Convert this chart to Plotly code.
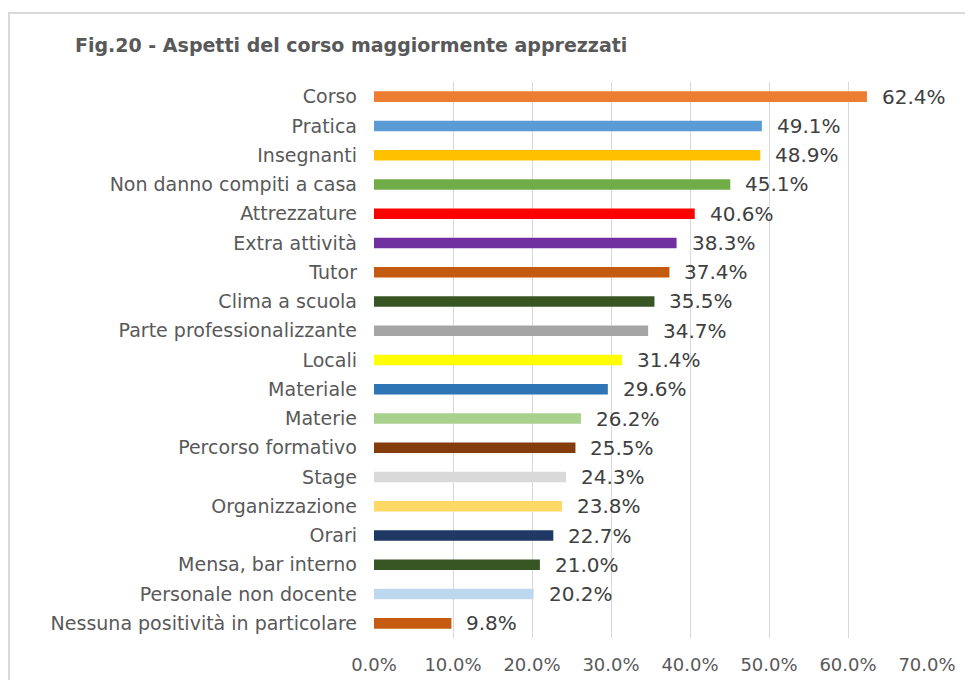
import plotly.graph_objects as go

categories = ["Corso", "Pratica", "Insegnanti", "Non danno compiti a casa", "Attrezzature",
              "Extra attività", "Tutor", "Clima a scuola", "Parte professionalizzante", "Locali",
              "Materiale", "Materie", "Percorso formativo", "Stage", "Organizzazione", "Orari",
              "Mensa, bar interno", "Personale non docente", "Nessuna positività in particolare"]
values = [62.4, 49.1, 48.9, 45.1, 40.6, 38.3, 37.4, 35.5, 34.7, 31.4,
          29.6, 26.2, 25.5, 24.3, 23.8, 22.7, 21.0, 20.2, 9.8]
colors = ["#ED7D31", "#5B9BD5", "#FFC000", "#70AD47", "#FF0000", "#7030A0", "#C55A11",
          "#375623", "#A5A5A5", "#FFFF00", "#2E75B6", "#A9D18E", "#843C0C", "#D9D9D9",
          "#FFD966", "#1F3864", "#375623", "#BDD7EE", "#C55A11"]
tick_vals = [0, 10, 20, 30, 40, 50, 60, 70]
tick_text = ["0.0%", "10.0%", "20.0%", "30.0%", "40.0%", "50.0%", "60.0%", "70.0%"]
title_text = "Fig.20 - Aspetti del corso maggiormente apprezzati"

# page body adds an 8px offset; layout positions compensate for it
OFF = 8
W, H = 973, 680
PL, PR, PT, PB = 374 - OFF, 927 - OFF, 82 - OFF, 638 - OFF
pw, ph = PR - PL, PB - PT

fig = go.Figure(go.Bar(
    x=values, y=categories, orientation="h",
    marker=dict(color=colors, line=dict(width=0)),
    hoverinfo="x+y", showlegend=False,
))

for c, v in zip(categories, values):
    fig.add_annotation(x=v, y=c, text=f"{v:.1f}%", showarrow=False,
                       xanchor="left", yanchor="middle", xshift=13,
                       font=dict(family="DejaVu Sans", size=20, color="#404040"))

fig.update_layout(
    width=W, height=H,
    margin=dict(l=PL, r=W - PR, t=PT, b=H - PB, autoexpand=False),
    paper_bgcolor="white", plot_bgcolor="white",
    bargap=0.64,
    title=dict(text="<b>" + title_text + "</b>", x=(75 - OFF) / W, xanchor="left", xref="container",
               y=1 - (45 - OFF) / H, yanchor="middle", yref="container",
               font=dict(family="DejaVu Sans", size=19, color="#595959")),
    xaxis=dict(range=[0, 70], tickvals=tick_vals, ticktext=tick_text, automargin=False,
               showgrid=True, gridcolor="#D9D9D9", gridwidth=1, zeroline=False,
               showline=False, ticks="", ticklabelstandoff=14,
               tickfont=dict(family="DejaVu Sans", size=18, color="#595959")),
    yaxis=dict(autorange="reversed", showgrid=False, zeroline=False, showline=False,
               automargin=False, ticks="", ticklabelstandoff=16,
               tickfont=dict(family="DejaVu Sans", size=19, color="#595959")),
    shapes=[dict(type="rect", xref="paper", yref="paper",
                 x0=(1 - PL) / pw, x1=1.3, y0=-0.3, y1=(PB - (13 - OFF)) / ph,
                 line=dict(color="#D9D9D9", width=2), fillcolor="rgba(0,0,0,0)", layer="below")],
)

fig.write_html("out.html")
